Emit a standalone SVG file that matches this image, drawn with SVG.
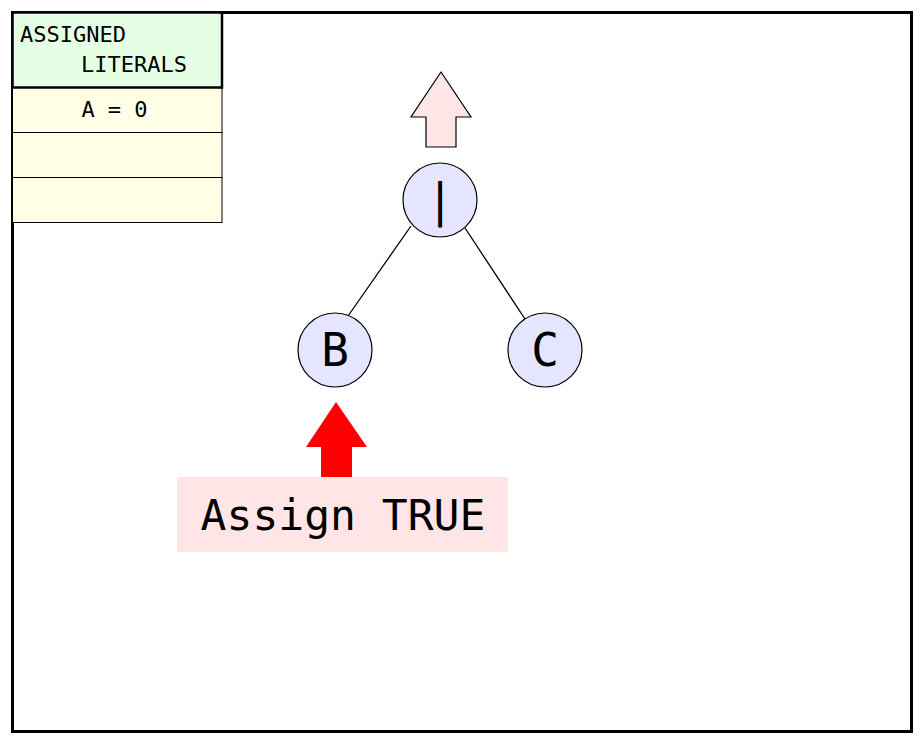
<svg xmlns="http://www.w3.org/2000/svg" width="921" height="741" viewBox="0 0 921 741">
<style>
text{font-family:"DejaVu Sans Mono","Liberation Mono",monospace;fill:#000}
.node circle{fill:#e5e5ff;stroke:#000;stroke-width:1.2}
.node text{font-size:46px;text-anchor:middle}
.row{fill:#ffffe5;stroke:#000;stroke-width:1}
.tbl{font-size:22px}
</style>
<rect x="0" y="0" width="921" height="741" fill="#fff"/>
<rect x="12.5" y="12.5" width="899" height="719" fill="#fff" stroke="#000" stroke-width="3"/>
<g id="table">
<rect class="row" x="12.5" y="87.5" width="209.5" height="45"/>
<rect class="row" x="12.5" y="132.5" width="209.5" height="45"/>
<rect class="row" x="12.5" y="177.5" width="209.5" height="45"/>
<rect x="12.5" y="12.5" width="209.5" height="75" fill="#e5ffe5" stroke="#000" stroke-width="2.5"/>
<text class="tbl" x="20" y="42">ASSIGNED</text>
<text class="tbl" x="81" y="72">LITERALS</text>
<text class="tbl" x="114.5" y="117" text-anchor="middle">A = 0</text>
</g>
<g id="connectors" stroke="#000" stroke-width="1.3">
<line x1="411" y1="226" x2="348" y2="316"/>
<line x1="465" y1="228" x2="525" y2="319"/>
</g>
<g id="up-arrow">
<polygon points="441,72 471,117 456,117 456,147 426,147 426,117 411,117" fill="#ffe5e5" stroke="#000" stroke-width="1.2"/>
</g>
<g id="node-or" class="node">
<circle cx="440" cy="200" r="37"/>
<text x="440" y="216">|</text>
</g>
<g id="node-b" class="node">
<circle cx="335" cy="350" r="37"/>
<text x="335" y="366">B</text>
</g>
<g id="node-c" class="node">
<circle cx="545" cy="350" r="37"/>
<text x="545" y="366">C</text>
</g>
<g id="assign">
<polygon points="336,402 367,447 352,447 352,478 321,478 321,447 306,447" fill="#f00"/>
<rect x="177" y="477" width="331" height="75" fill="#ffe5e5"/>
<text x="343" y="530" font-size="43" text-anchor="middle">Assign TRUE</text>
</g>
</svg>
